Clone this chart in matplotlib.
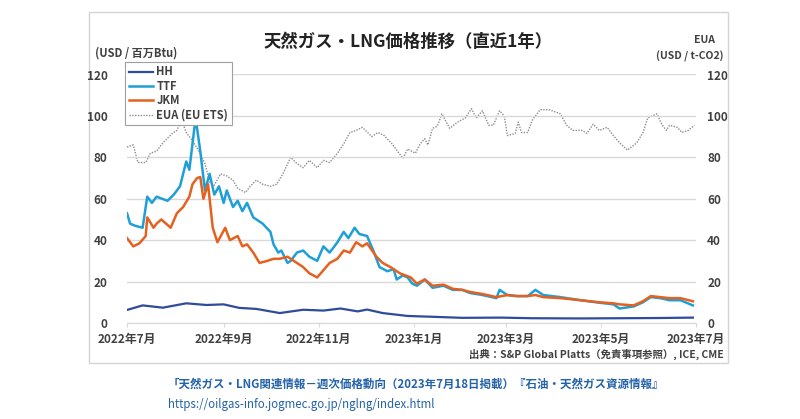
import matplotlib
matplotlib.use("Agg")
import matplotlib.pyplot as plt
import pandas as pd
from matplotlib.patches import Rectangle

plt.rcParams['font.family'] = ['Noto Sans CJK JP', 'DejaVu Sans']

# ---------------- data ----------------
ttf_dates = ["2022-07-01","2022-07-03","2022-07-06","2022-07-11","2022-07-14","2022-07-17","2022-07-20",
             "2022-07-27","2022-07-31","2022-08-04","2022-08-08","2022-08-10","2022-08-14","2022-08-17",
             "2022-08-20","2022-08-23","2022-08-26","2022-08-29","2022-09-01","2022-09-03","2022-09-07",
             "2022-09-10","2022-09-13","2022-09-16","2022-09-20","2022-09-26","2022-10-01","2022-10-03",
             "2022-10-06","2022-10-08","2022-10-12","2022-10-14","2022-10-18","2022-10-22","2022-10-26",
             "2022-10-31","2022-11-04","2022-11-08","2022-11-13","2022-11-17","2022-11-20","2022-11-24",
             "2022-11-27","2022-12-02","2022-12-06","2022-12-10","2022-12-15","2022-12-19","2022-12-21",
             "2022-12-25","2022-12-28","2022-12-31","2023-01-03","2023-01-08","2023-01-13","2023-01-20",
             "2023-01-26","2023-02-01","2023-02-06","2023-02-14","2023-02-23","2023-02-25","2023-03-02",
             "2023-03-08","2023-03-15","2023-03-20","2023-03-25","2023-04-05","2023-04-18","2023-04-30",
             "2023-05-09","2023-05-13","2023-05-22","2023-05-28","2023-06-02","2023-06-08","2023-06-14",
             "2023-06-21","2023-06-29"]
ttf_values = [53, 48, 47, 46, 61, 58, 61,
              59, 62, 66, 78, 74, 99, 83,
              64, 72, 62, 66, 58, 64, 56,
              59, 54, 58, 51, 48, 44, 38,
              34, 35, 29, 30, 34, 35, 32,
              30, 37, 34, 39, 44, 41, 46,
              43, 42, 35, 27, 25, 26, 21,
              23, 22, 19, 18, 21, 17, 18,
              16, 16, 14.5, 13.5, 12, 16, 13.5,
              13, 13, 16, 13.5, 12.5, 11, 9.8,
              9, 7, 8, 10, 12.5, 12, 11,
              11, 8.5]

jkm_dates = ["2022-07-01","2022-07-05","2022-07-09","2022-07-13","2022-07-14","2022-07-18","2022-07-20",
             "2022-07-23","2022-07-29","2022-08-02","2022-08-06","2022-08-10","2022-08-12","2022-08-15",
             "2022-08-17","2022-08-19","2022-08-22","2022-08-25","2022-08-28","2022-09-02","2022-09-05",
             "2022-09-10","2022-09-13","2022-09-16","2022-09-20","2022-09-24","2022-09-29","2022-10-03",
             "2022-10-07","2022-10-12","2022-10-18","2022-10-22","2022-10-26","2022-10-31","2022-11-04",
             "2022-11-08","2022-11-13","2022-11-17","2022-11-21","2022-11-25","2022-11-29","2022-12-02",
             "2022-12-08","2022-12-12","2022-12-17","2022-12-23","2022-12-30","2023-01-03","2023-01-08",
             "2023-01-13","2023-01-20","2023-01-26","2023-02-01","2023-02-06","2023-02-14","2023-02-23",
             "2023-03-02","2023-03-08","2023-03-15","2023-03-20","2023-03-25","2023-04-05","2023-04-18",
             "2023-04-30","2023-05-09","2023-05-13","2023-05-22","2023-05-28","2023-06-02","2023-06-08",
             "2023-06-14","2023-06-21","2023-06-29"]
jkm_values = [41, 37, 38.5, 42, 51, 46, 48,
              50, 46, 53, 56, 61, 67, 70,
              70.5, 60, 67, 46, 39, 46, 40,
              42, 37, 38, 34, 29, 30, 31,
              31, 32, 29, 27, 24, 22, 25.5,
              29, 31, 35, 34, 39, 37, 38.5,
              32, 29, 27, 24, 22, 19, 21,
              18, 18.5, 16.5, 16, 15, 14, 12.5,
              13.5, 13, 13, 13.5, 12.5, 12, 11,
              10, 9.5, 9, 8.5, 10.5, 13, 12.5,
              12, 12, 10.5]

hh_dates = ["2022-07-01","2022-07-11","2022-07-24","2022-08-08","2022-08-21","2022-09-01","2022-09-11",
            "2022-09-22","2022-10-07","2022-10-22","2022-11-04","2022-11-15","2022-11-26","2022-12-02",
            "2022-12-12","2022-12-28","2023-01-13","2023-02-01","2023-02-26","2023-03-18","2023-04-17",
            "2023-05-12","2023-06-06","2023-06-29"]
hh_values = [6.3, 8.5, 7.4, 9.5, 8.7, 9.0, 7.3,
             6.8, 4.8, 6.4, 6.0, 7.0, 5.6, 6.5,
             4.8, 3.4, 3.0, 2.5, 2.6, 2.3, 2.2,
             2.3, 2.4, 2.6]

eua_dates = ["2022-07-01","2022-07-05","2022-07-08","2022-07-13","2022-07-16","2022-07-20","2022-07-24",
             "2022-07-30","2022-08-02","2022-08-05","2022-08-08","2022-08-12","2022-08-17","2022-08-20",
             "2022-08-23","2022-08-26","2022-08-30","2022-09-03","2022-09-07","2022-09-10","2022-09-15",
             "2022-09-18","2022-09-22","2022-09-26","2022-10-01","2022-10-05","2022-10-09","2022-10-14",
             "2022-10-18","2022-10-22","2022-10-26","2022-10-31","2022-11-04","2022-11-08","2022-11-13",
             "2022-11-17","2022-11-21","2022-11-25","2022-11-29","2022-12-05","2022-12-09","2022-12-13",
             "2022-12-18","2022-12-22","2022-12-25","2022-12-28","2023-01-02","2023-01-05","2023-01-08",
             "2023-01-10","2023-01-13","2023-01-16","2023-01-19","2023-01-24","2023-01-29","2023-02-03",
             "2023-02-07","2023-02-10","2023-02-14","2023-02-18","2023-02-21","2023-02-25","2023-02-28",
             "2023-03-02","2023-03-07","2023-03-09","2023-03-11","2023-03-15","2023-03-18","2023-03-23",
             "2023-03-29","2023-04-05","2023-04-09","2023-04-13","2023-04-19","2023-04-22","2023-04-26",
             "2023-04-30","2023-05-05","2023-05-09","2023-05-13","2023-05-18","2023-05-24","2023-05-28",
             "2023-05-31","2023-06-06","2023-06-09","2023-06-12","2023-06-14","2023-06-19","2023-06-22",
             "2023-06-26","2023-06-30"]
eua_values = [85, 86, 77.5, 77.5, 82, 83, 87,
              91.5, 93, 98, 92, 88, 82, 77,
              68, 66.5, 72, 71, 69, 65, 63,
              66, 69, 67, 66, 67, 72, 80,
              77, 75, 78.5, 75, 78.5, 77.5, 82,
              86.5, 92, 93, 94.5, 90, 92, 90.5,
              86.5, 82.5, 79.5, 84, 82, 86.5, 89,
              86, 94, 95, 101, 94, 97, 99,
              103.5, 99, 102.5, 95.5, 95.5, 102.5, 100,
              90.5, 91.5, 97, 92, 92, 98, 103,
              103, 101, 95.5, 93, 93, 91.5, 96,
              93, 94.5, 90.5, 87, 83.5, 87, 92,
              99, 101, 96, 93, 95.5, 94.5, 92,
              93, 95.5]

series_names = ["HH", "TTF", "JKM", "EUA (EU ETS)"]
xtick_dates = ["2022-07-01", "2022-09-01", "2022-11-01", "2023-01-01", "2023-03-01", "2023-05-01", "2023-07-01"]
xtick_labels = ["2022年7月", "2022年9月", "2022年11月", "2023年1月", "2023年3月", "2023年5月", "2023年7月"]
ytick_values = [0, 20, 40, 60, 80, 100, 120]

title = "天然ガス・LNG価格推移（直近1年）"
left_unit = "(USD / 百万Btu)"
right_unit1 = "EUA"
right_unit2 = "(USD / t-CO2)"
source = "出典：S&P Global Platts（免責事項参照）, ICE, CME"
caption1 = "「天然ガス・LNG関連情報－週次価格動向（2023年7月18日掲載）『石油・天然ガス資源情報』"
caption2 = "https://oilgas-info.jogmec.go.jp/nglng/index.html"

# ---------------- figure ----------------
W, H = 800, 419
fig = plt.figure(figsize=(W / 100, H / 100), dpi=100)
fig.patch.set_facecolor("white")

# chart frame
fig.patches.append(Rectangle((89 / W, 1 - 363 / H), (728 - 89) / W, (363 - 12) / H,
                             transform=fig.transFigure, fill=False, edgecolor="#d4d4d4", lw=1.0))

ax = fig.add_axes([127 / W, 1 - 323 / H, (696 - 127) / W, (323 - 74.5) / H])
ax2 = ax.twinx()

tick_color = "#404040"
grid_color = "#d9d9d9"

for a in (ax, ax2):
    for s in a.spines.values():
        s.set_visible(False)
    a.set_ylim(0, 120)
    a.set_yticks(ytick_values)

ax.set_zorder(2)
ax2.set_zorder(1)
ax.patch.set_visible(False)

ax.grid(axis="y", color=grid_color, lw=1.0)
ax.spines["bottom"].set_visible(True)
ax.spines["bottom"].set_color(grid_color)

ax.tick_params(axis="y", length=0, pad=14, labelsize=8.5, labelcolor=tick_color)
ax2.tick_params(axis="y", length=0, pad=8, labelsize=8.5, labelcolor=tick_color)
ax.tick_params(axis="x", length=3, color=grid_color, pad=4, labelsize=8.5, labelcolor=tick_color)

td = lambda lst: pd.to_datetime(lst)

l_eua, = ax2.plot(td(eua_dates), eua_values, color="#8c8c8c", lw=1.0, ls=(0, (1, 1)))
l_hh, = ax.plot(td(hh_dates), hh_values, color="#2f4b9b", lw=1.6)
l_ttf, = ax.plot(td(ttf_dates), ttf_values, color="#1e9fd7", lw=1.8)
l_jkm, = ax.plot(td(jkm_dates), jkm_values, color="#e4611f", lw=1.8)

ax.set_xlim(pd.Timestamp("2022-07-01"), pd.Timestamp("2023-07-01"))
ax.set_xticks(td(xtick_dates))
ax.set_xticklabels(xtick_labels, fontweight="bold")
for lab in ax.get_yticklabels() + ax2.get_yticklabels():
    lab.set_fontweight("bold")

leg = ax.legend([l_hh, l_ttf, l_jkm, l_eua], series_names, loc="upper left",
                bbox_to_anchor=(-0.003, 1.05), fontsize=8, frameon=True, fancybox=False,
                edgecolor="#a0a0a0", framealpha=1.0, handlelength=2.2, handletextpad=0.3,
                labelspacing=0.12, borderpad=0.3, borderaxespad=0.0)
leg.get_frame().set_linewidth(0.8)
for t in leg.get_texts():
    t.set_color(tick_color)
    t.set_fontweight("bold")

fig.text(408 / W, 1 - 42 / H, title, ha="center", va="center", fontsize=12.5, fontweight="bold", color="#222222")
fig.text(95 / W, 1 - 53 / H, left_unit, ha="left", va="center", fontsize=8, fontweight="bold", color=tick_color)
fig.text(704 / W, 1 - 40 / H, right_unit1, ha="center", va="center", fontsize=7.5, fontweight="bold", color=tick_color)
fig.text(724 / W, 1 - 56 / H, right_unit2, ha="right", va="center", fontsize=7.5, fontweight="bold", color=tick_color)
fig.text(724 / W, 1 - 354 / H, source, ha="right", va="center", fontsize=7.5, fontweight="bold", color=tick_color)

cap_color = "#2563a8"
fig.text(168 / W, 1 - 384 / H, caption1, ha="left", va="center", fontsize=8.3, fontweight="bold", color=cap_color)
fig.text(168 / W, 1 - 404 / H, caption2, ha="left", va="center", fontsize=8.3, color=cap_color)

fig.savefig("out.png", dpi=100)
